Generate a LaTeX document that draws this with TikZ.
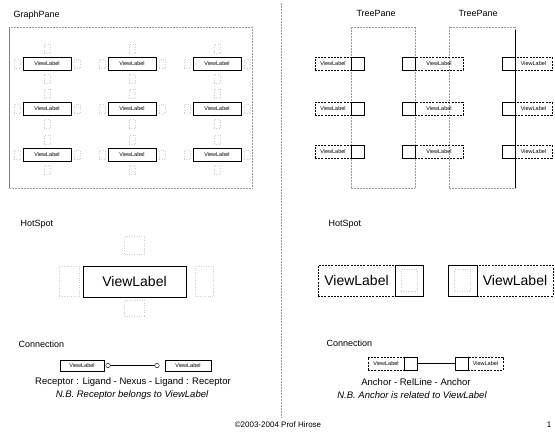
\documentclass[tikz,border=0pt]{standalone}
\usepackage{fontspec}
\setmainfont{Liberation Sans}
\usetikzlibrary{positioning}

\begin{document}
\begin{tikzpicture}[x=1pt,y=-1pt,
  vlabel/.style={draw,line width=0.8pt,inner sep=0pt,outer sep=0pt,minimum width=48pt,minimum height=13pt,font=\fontsize{5.5}{6}\selectfont},
  dlabel/.style={draw,dash pattern=on 2pt off 1.2pt,line width=0.5pt,inner sep=0pt,outer sep=0pt,minimum height=13pt,font=\fontsize{5.5}{6}\selectfont},
  anch/.style={draw,line width=0.6pt,inner sep=0pt,outer sep=0pt,minimum height=13pt,minimum width=13pt},
  hot/.style={draw=gray!40,dotted,line width=0.4pt,inner sep=0pt,minimum width=6pt,minimum height=9pt},
  pane/.style={draw=gray!80,densely dotted,line width=0.5pt},
  title/.style={anchor=base west,font=\fontsize{9}{10}\selectfont},
  note/.style={font=\fontsize{9.5}{11}\selectfont}]
\useasboundingbox (0,0) rectangle (555,435);
\draw[pane] (281,3) -- (281,418);

% graph pane
\node[title] (gp) at (10,18) {GraphPane};
\draw[pane] (9,27) rectangle (252,188);
\draw[gray,line width=0.5pt] (9,27) -- (9,188);
\foreach \c/\x in {1/47,2/132,3/217}
  \foreach \r/\y in {1/64,2/109,3/155} {
    \node[vlabel] (g-\c-\r) at (\x,\y) {ViewLabel};
    \node[hot,above=4pt of g-\c-\r] (g-\c-\r-n) {};
    \node[hot,below=4pt of g-\c-\r] (g-\c-\r-s) {};
    \node[hot,left=3pt of g-\c-\r] (g-\c-\r-w) {};
    \node[hot,right=3pt of g-\c-\r] (g-\c-\r-e) {};
  }

% tree panes
\node[title] (tp1) at (353,17) {TreePane};
\node[title] (tp2) at (455,17) {TreePane};
\draw[pane] (351,27) rectangle (415,188);
\draw[pane] (449,27) rectangle (515,188);
\draw[line width=0.6pt] (515,30) -- (515,188);
\foreach \r/\y in {1/64,2/109,3/152} {
  \node[dlabel,minimum width=36pt,anchor=east] (ta-\r) at (351,\y) {ViewLabel};
  \node[anch,right=0pt of ta-\r] (ta-\r-a) {};
  \node[anch,anchor=east] (tb-\r-a) at (415,\y) {};
  \node[dlabel,minimum width=48pt,right=0pt of tb-\r-a] (tb-\r) {ViewLabel};
  \node[anch,anchor=east] (tc-\r-a) at (515,\y) {};
  \node[dlabel,minimum width=37pt,right=0pt of tc-\r-a] (tc-\r) {ViewLabel};
}

% hotspot
\node[title] (hs1) at (17,227) {HotSpot};
\node[draw,line width=0.8pt,minimum width=103pt,minimum height=31pt,font=\fontsize{14}{16}\selectfont] (big) at (134.5,281.5) {ViewLabel};
\node[hot,minimum width=20pt,minimum height=18pt,above=11pt of big] (big-n) {};
\node[hot,minimum width=20pt,minimum height=16pt,below=3pt of big] (big-s) {};
\node[hot,minimum width=20pt,minimum height=30pt,left=3pt of big] (big-w) {};
\node[hot,minimum width=18pt,minimum height=30pt,right=9pt of big] (big-e) {};

\node[title] (hs2) at (325,227) {HotSpot};
\node[dlabel,minimum width=77pt,minimum height=31pt,font=\fontsize{14}{16}\selectfont,anchor=east] (hl) at (395,280.5) {ViewLabel};
\node[anch,minimum width=28pt,minimum height=31pt,right=0pt of hl] (hl-a) {};
\node[hot,minimum width=16pt,minimum height=22pt] (hl-h) at (hl-a) {};
\node[anch,minimum width=29pt,minimum height=31pt,anchor=east] (hr-a) at (477,280.5) {};
\node[hot,minimum width=16pt,minimum height=22pt] (hr-h) at (hr-a) {};
\node[dlabel,minimum width=76pt,minimum height=31pt,font=\fontsize{14}{16}\selectfont,right=0pt of hr-a] (hr) {ViewLabel};

% connection
\node[title] (cn1) at (15,348) {Connection};
\node[vlabel,line width=0.5pt,minimum width=44pt,minimum height=11pt] (cl) at (82,365.5) {ViewLabel};
\node[draw,circle,inner sep=0pt,minimum size=4.5pt] (rl) at (108,365.5) {};
\node[draw,circle,inner sep=0pt,minimum size=4.5pt] (rr) at (157,365.5) {};
\node[vlabel,line width=0.5pt,minimum width=46pt,minimum height=11pt] (cr) at (188,365.5) {ViewLabel};
\draw[line width=0.6pt] (rl) -- (rr);
\node[note] (rcp) at (133,382) {Receptor : Ligand - Nexus - Ligand : Receptor};
\node[note] (rnb) at (132,395) {\itshape N.B. Receptor belongs to ViewLabel};

\node[title] (cn2) at (323,347) {Connection};
\node[dlabel,minimum width=36pt,anchor=east] (cal) at (404,363.5) {ViewLabel};
\node[anch,right=0pt of cal] (cal-a) {};
\node[anch,anchor=east] (car-a) at (468,363.5) {};
\node[dlabel,minimum width=35pt,right=0pt of car-a] (car) {ViewLabel};
\draw[line width=0.6pt] (cal-a) -- (car-a);
\node[note] (anc) at (416,382) {Anchor - RelLine - Anchor};
\node[note] (anb) at (412,395) {\itshape N.B. Anchor is related to ViewLabel};

% footer
\node[font=\fontsize{8}{9}\selectfont] (foot) at (278,425) {©2003-2004 Prof Hirose};
\node[font=\fontsize{8}{9}\selectfont] (page) at (549,425) {1};
\end{tikzpicture}
\end{document}
